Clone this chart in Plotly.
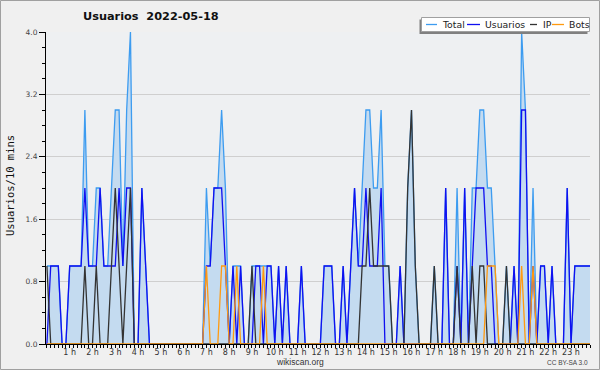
import plotly.graph_objects as go

# ---- data (10-minute slots, 144 per day) ----
hour_labels = [f"{h} h" for h in range(1, 24)]

usuarios = [
    0, 1, 1, 1, 0, 0,   1, 1, 1, 1, 2, 1,   1, 1, 2, 1, 1, 1,   1, 2, 1, 2, 2, 0,
    0, 2, 1, 0, 0, 0,   0, 0, 0, 0, 0, 0,   0, 0, 0, 0, 0, 0,   1, 1, 2, 2, 2, 1,
    0, 1, 0, 1, 0, 0,   0, 1, 1, 0, 1, 1,   0, 1, 0, 1, 0, 0,   0, 1, 0, 0, 0, 0,
    0, 1, 1, 1, 0, 0,   1, 0, 1, 2, 1, 1,   2, 1, 1, 1, 2, 0,   0, 0, 0, 1, 0, 0,
    0, 0, 0, 0, 0, 0,   0, 0, 0, 2, 0, 0,   1, 0, 2, 0, 1, 2,   2, 2, 1, 1, 0, 0,
    0, 0, 0, 1, 0, 3,   3, 0, 1, 0, 1, 1,   0, 1, 0, 0, 0, 2,   0, 1, 1, 1, 1, 1,
]
ip = [
    1, 0, 0, 0, 0, 0,   0, 0, 0, 0, 1, 0,   0, 1, 0, 0, 0, 1,   2, 1, 0, 1, 2, 0,
    0, 0, 0, 0, 0, 0,   0, 0, 0, 0, 0, 0,   0, 0, 0, 0, 0, 0,   0, 0, 0, 0, 0, 0,
    0, 0, 0, 0, 0, 0,   1, 0, 0, 0, 0, 0,   0, 0, 0, 0, 0, 0,   0, 0, 0, 0, 0, 0,
    0, 0, 0, 0, 0, 0,   0, 0, 0, 0, 0, 1,   1, 2, 1, 1, 1, 1,   1, 0, 0, 0, 0, 2,
    3, 1, 0, 0, 0, 0,   1, 0, 0, 0, 0, 0,   1, 0, 0, 0, 1, 0,   1, 1, 0, 0, 0, 0,
    0, 1, 0, 0, 0, 0,   0, 0, 0, 0, 0, 0,   0, 0, 0, 0, 0, 0,   0, 0, 0, 0, 0, 0,
]
bots = [
    0, 0, 0, 0, 0, 0,   0, 0, 0, 0, 0, 0,   0, 0, 0, 0, 0, 0,   0, 0, 0, 0, 0, 0,
    0, 0, 0, 0, 0, 0,   0, 0, 0, 0, 0, 0,   0, 0, 0, 0, 0, 0,   1, 0, 0, 0, 1, 1,
    0, 0, 1, 0, 0, 0,   0, 0, 0, 1, 0, 0,   0, 0, 0, 0, 0, 0,   0, 0, 0, 0, 0, 0,
    0, 0, 0, 0, 0, 0,   0, 0, 0, 0, 0, 0,   0, 0, 0, 0, 0, 0,   0, 0, 0, 0, 0, 0,
    0, 0, 0, 0, 0, 0,   0, 0, 0, 0, 0, 0,   0, 0, 0, 0, 0, 0,   0, 0, 1, 1, 1, 0,
    0, 0, 0, 0, 0, 1,   0, 0, 1, 0, 0, 0,   0, 0, 0, 0, 0, 0,   0, 0, 0, 0, 0, 0,
]
total = [
    1, 1, 1, 1, 0, 0,   1, 1, 1, 1, 3, 1,   1, 2, 2, 1, 1, 2,   3, 3, 1, 3, 4, 0,
    0, 2, 1, 0, 0, 0,   0, 0, 0, 0, 0, 0,   0, 0, 0, 0, 0, 0,   2, 1, 2, 2, 3, 2,
    0, 1, 1, 1, 0, 0,   1, 1, 1, 1, 1, 1,   0, 1, 0, 1, 0, 0,   0, 1, 0, 0, 0, 0,
    0, 1, 1, 1, 0, 0,   1, 0, 1, 2, 1, 2,   3, 3, 2, 2, 3, 1,   1, 0, 0, 1, 0, 2,
    3, 1, 0, 0, 0, 0,   1, 0, 0, 2, 0, 0,   2, 0, 2, 0, 2, 2,   3, 3, 2, 2, 1, 0,
    0, 1, 0, 1, 0, 4,   3, 0, 2, 0, 1, 1,   0, 1, 0, 0, 0, 2,   0, 1, 1, 1, 1, 1,
]
slots = list(range(len(total)))
# a tick every 10 minutes, a label every hour
tick_vals = list(range(len(total)))
tick_text = [hour_labels[i // 6 - 1] if (i % 6 == 0 and i > 0) else "" for i in tick_vals]

W, H = 600, 370
ML, MR, MT, MB = 46, 10, 32, 26
PW, PH = W - ML - MR, H - MT - MB

def px(xp):
    return (xp - ML) / PW

def py(yp):
    return (H - MB - yp) / PH

FONT = "DejaVu Sans"
C_TOTAL, C_USR, C_IP, C_BOT = "#3d9cf0", "#1010f0", "#333333", "#ff9a10"

fig = go.Figure()
fig.add_trace(go.Scatter(x=slots, y=total, mode="lines", name="Total",
                         line=dict(color=C_TOTAL, width=1.3),
                         fill="tozeroy", fillcolor="#c4dbf0"))
fig.add_trace(go.Scatter(x=slots, y=usuarios, mode="lines", name="Usuarios",
                         line=dict(color=C_USR, width=1.3)))
fig.add_trace(go.Scatter(x=slots, y=ip, mode="lines", name="IP",
                         line=dict(color=C_IP, width=1.3)))
fig.add_trace(go.Scatter(x=slots, y=bots, mode="lines", name="Bots",
                         line=dict(color=C_BOT, width=1.3)))

fig.update_layout(
    width=W, height=H,
    margin=dict(l=ML, r=MR, t=MT, b=MB),
    paper_bgcolor="#f0f0f0", plot_bgcolor="#eef0f2",
    showlegend=False,
    font=dict(family=FONT, size=8, color="#333"),
)
fig.update_xaxes(
    range=[-0.24, 143], tickmode="array", tickvals=tick_vals, ticktext=tick_text,
    ticks="outside", ticklen=3, tickcolor="#000", showgrid=False, zeroline=False,
    showline=True, linecolor="#000", linewidth=1, ticklabelstandoff=-3,
    tickfont=dict(family=FONT, size=8, color="#333"),
)
fig.update_yaxes(
    range=[0, 4], tickmode="linear", tick0=0, dtick=0.8, tickformat=".1f",
    ticks="outside", ticklen=6, tickcolor="#000", showgrid=True, gridcolor="#cfcfcf",
    gridwidth=1, zeroline=False, showline=True, linecolor="#000", linewidth=1,
    tickfont=dict(family=FONT, size=7.5, color="#444"),
    minor=dict(tickmode="linear", tick0=0, dtick=0.2, ticks="outside", ticklen=3, tickcolor="#000"),
)

shapes = [
    # outer border
    dict(type="rect", xref="paper", yref="paper", x0=px(0.5), x1=px(599.5), y0=py(369.5), y1=py(0.5),
         line=dict(color="#a0a0a0", width=1), fillcolor="rgba(0,0,0,0)", layer="above"),
    # legend shadow + box
    dict(type="rect", xref="paper", yref="paper", x0=px(419.5), x1=px(587.5), y0=py(34), y1=py(19.5),
         line=dict(width=0), fillcolor="#808080", layer="above"),
    dict(type="rect", xref="paper", yref="paper", x0=px(421.5), x1=px(589.5), y0=py(31.5), y1=py(17.5),
         line=dict(color="#a0a0a0", width=1), fillcolor="#ffffff", layer="above"),
]
legend_items = [("Total", C_TOTAL, 426, 437, 440),
                ("Usuarios", C_USR, 467, 480, 483),
                ("IP", C_IP, 530, 537, 541),
                ("Bots", C_BOT, 552, 564, 567)]
annotations = []
for name, col, l0, l1, tx in legend_items:
    shapes.append(dict(type="line", xref="paper", yref="paper", x0=px(l0), x1=px(l1),
                       y0=py(24.5), y1=py(24.5), line=dict(color=col, width=1.3), layer="above"))
    annotations.append(dict(text=name, xref="paper", yref="paper", x=px(tx), y=py(24.5),
                            xanchor="left", yanchor="middle", showarrow=False,
                            font=dict(family=FONT, size=9.3, color="#222")))

annotations += [
    dict(text="<b>Usuarios  2022-05-18</b>", xref="paper", yref="paper", x=px(151), y=py(17),
         xanchor="center", yanchor="middle", showarrow=False,
         font=dict(family=FONT, size=11.3, color="#111")),
    dict(text="Usuarios/10 mins", xref="paper", yref="paper", x=px(10), y=py(186),
         xanchor="center", yanchor="middle", textangle=-90, showarrow=False,
         font=dict(family="DejaVu Sans Mono", size=10.5, color="#111")),
    dict(text="wikiscan.org", xref="paper", yref="paper", x=px(300), y=py(361.5),
         xanchor="center", yanchor="middle", showarrow=False,
         font=dict(family="Liberation Sans", size=8.5, color="#333")),
    dict(text="CC BY-SA 3.0", xref="paper", yref="paper", x=px(590), y=py(362),
         xanchor="right", yanchor="middle", showarrow=False,
         font=dict(family="Liberation Sans", size=6.5, color="#444")),
]
fig.update_layout(shapes=shapes, annotations=annotations)
fig.write_html("out.html")
